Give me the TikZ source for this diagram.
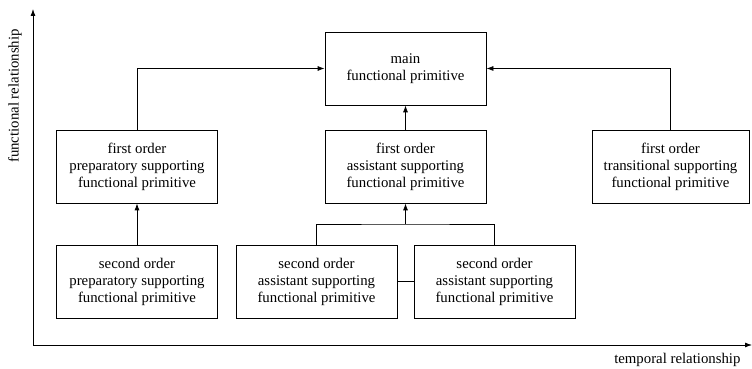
\documentclass[tikz,border=0pt]{standalone}
\usepackage{fontspec}
\setmainfont{Liberation Serif}
\usetikzlibrary{arrows.meta}
\begin{document}
\begin{tikzpicture}[x=1pt,y=1pt,>={Latex[length=7pt,width=5pt]},
		prim/.style={draw, line width=0.8pt, minimum width=161pt, minimum height=73pt,
			align=center, inner sep=0pt, font=\fontsize{14.8}{17}\selectfont},
		link/.style={line width=0.8pt}]
	\useasboundingbox (0,0) rectangle (752,369);
	%Achsen
	\draw[link,->] (33,24) -- (33,360);
	\draw[link,->] (33,24) -- (752,24);
	\node[rotate=90, font=\fontsize{14.8}{17}\selectfont] (ylab) at (15,273) {functional relationship};
	\node[anchor=east, font=\fontsize{14.8}{17}\selectfont] (xlab) at (744,9) {temporal relationship};
	%Primitive
	\node[prim] (main) at (405.5,300.5) {main\\functional primitive};
	\node[prim] (prep1) at (137,202.5) {first order\\preparatory supporting\\functional primitive};
	\node[prim] (assi1) at (405.5,202.5) {first order\\assistant supporting\\functional primitive};
	\node[prim, minimum width=157pt] (trans1) at (670.5,202.5) {first order\\transitional supporting\\functional primitive};
	\node[prim] (prep2) at (137,87.5) {second order\\preparatory supporting\\functional primitive};
	\node[prim] (assi2a) at (316.5,87.5) {second order\\assistant supporting\\functional primitive};
	\node[prim] (assi2b) at (494.5,87.5) {second order\\assistant supporting\\functional primitive};
	%Verbindungen
	\coordinate (join) at (405.5,145);
	\draw[link,->] (prep1.north) |- (main.west);
	\draw[link,->] (trans1.north) |- (main.east);
	\draw[link,->] (assi1.north) -- (main.south);
	\draw[link,->] (prep2.north) -- (prep1.south);
	\draw[link] (assi2a.north) |- (join) -| (assi2b.north);
	\draw[link,->] (join) -- (assi1.south);
	\draw[link] (assi2a.east) -- (assi2b.west);
\end{tikzpicture}
\end{document}
